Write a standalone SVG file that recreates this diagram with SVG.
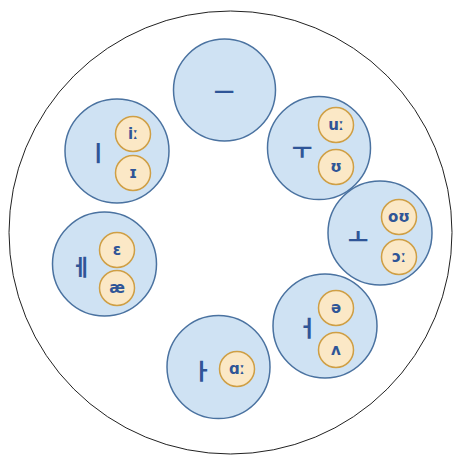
<svg xmlns="http://www.w3.org/2000/svg" width="461" height="460" viewBox="0 0 461 460">
<style>
.big{fill:#cfe2f3;stroke:#4a72a0;stroke-width:1.5}
.sm{fill:#fbe8c6;stroke:#cf9f45;stroke-width:1.5}
.k{font-family:"Noto Sans CJK KR","Noto Sans",sans-serif;font-size:22px;font-weight:bold;fill:#2f5597;text-anchor:middle;dominant-baseline:central}
.p{font-family:"DejaVu Sans","Noto Sans",sans-serif;font-size:15px;font-weight:bold;fill:#2f5597;text-anchor:middle;dominant-baseline:central}
</style>
<rect width="461" height="460" fill="#ffffff"/>
<circle cx="230.5" cy="232.5" r="221.5" fill="#ffffff" stroke="#222" stroke-width="1"/>
<g id="connectors"/>
<g id="eu">
<circle class="big" cx="224.5" cy="90" r="51"/>
<text class="k" x="224" y="90">ㅡ</text>
</g>
<g id="i">
<circle class="big" cx="117" cy="151" r="52"/>
<text class="k" x="98" y="151">ㅣ</text>
<circle class="sm" cx="133" cy="134" r="17.5"/>
<text class="p" x="133" y="134">iː</text>
<circle class="sm" cx="133" cy="173" r="17.5"/>
<text class="p" x="133" y="173">ɪ</text>
</g>
<g id="u">
<circle class="big" cx="319" cy="148" r="51.5"/>
<text class="k" x="302" y="148">ㅜ</text>
<circle class="sm" cx="336" cy="125" r="17.5"/>
<text class="p" x="336" y="125">uː</text>
<circle class="sm" cx="336" cy="167" r="17.5"/>
<text class="p" x="336" y="167">ʊ</text>
</g>
<g id="o">
<circle class="big" cx="380" cy="233" r="52"/>
<text class="k" x="358" y="235">ㅗ</text>
<circle class="sm" cx="399" cy="217" r="17.5"/>
<text class="p" x="399" y="217">oʊ</text>
<circle class="sm" cx="399" cy="257" r="17.5"/>
<text class="p" x="399" y="257">ɔː</text>
</g>
<g id="e">
<circle class="big" cx="104.5" cy="264" r="52"/>
<text class="k" x="81" y="265">ㅔ</text>
<circle class="sm" cx="117" cy="250" r="17.5"/>
<text class="p" x="117" y="250">ɛ</text>
<circle class="sm" cx="117" cy="288" r="17.5"/>
<text class="p" x="117" y="288">æ</text>
</g>
<g id="eo">
<circle class="big" cx="325" cy="326" r="52"/>
<text class="k" x="307" y="326">ㅓ</text>
<circle class="sm" cx="336" cy="308" r="17.5"/>
<text class="p" x="336" y="308">ə</text>
<circle class="sm" cx="336" cy="350" r="17.5"/>
<text class="p" x="336" y="350">ʌ</text>
</g>
<g id="a">
<circle class="big" cx="218.5" cy="367" r="51.5"/>
<text class="k" x="202" y="369">ㅏ</text>
<circle class="sm" cx="237" cy="369" r="17.5"/>
<text class="p" x="237" y="369">ɑː</text>
</g>
</svg>
